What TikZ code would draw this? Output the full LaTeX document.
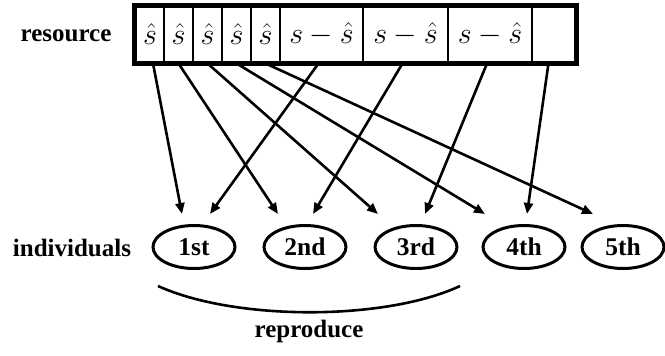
\documentclass[tikz,border=0pt]{standalone}
\usepackage{fontspec}
\setmainfont{Liberation Serif}
\usetikzlibrary{arrows.meta,shapes.geometric}
\newcommand\cellmath[1]{\scalebox{1.45}{$#1$}}
\begin{document}
\begin{tikzpicture}[x=1pt,y=-1pt,
  cell/.style={draw,line width=2.8pt,inner sep=0pt,minimum height=55pt,font=\fontsize{20}{24}\selectfont},
  indiv/.style={draw,ellipse,line width=3pt,minimum width=82pt,minimum height=43pt,inner sep=0pt,font=\bfseries\fontsize{25.5}{30}\selectfont},
  lbl/.style={font=\bfseries\fontsize{25}{30}\selectfont,inner sep=0pt},
  arr/.style={line width=2.6pt,-{Triangle[length=11pt,width=9pt]}}]
\useasboundingbox (0,0) rectangle (665,356);
% resource cells
\node[cell,minimum width=28pt] (c1) at (150,34.5) {\cellmath{\hat{s}}};
\node[cell,minimum width=29pt] (c2) at (178.5,34.5) {\cellmath{\hat{s}}};
\node[cell,minimum width=29pt] (c3) at (207.5,34.5) {\cellmath{\hat{s}}};
\node[cell,minimum width=29pt] (c4) at (236.5,34.5) {\cellmath{\hat{s}}};
\node[cell,minimum width=29pt] (c5) at (265.5,34.5) {\cellmath{\hat{s}}};
\node[cell,minimum width=83pt] (c6) at (321.5,34.5) {\cellmath{s-\hat{s}}};
\node[cell,minimum width=85pt] (c7) at (405.5,34.5) {\cellmath{s-\hat{s}}};
\node[cell,minimum width=84pt] (c8) at (490,34.5) {\cellmath{s-\hat{s}}};
\node[cell,minimum width=43pt] (c9) at (553.5,34.5) {};
\draw[line width=4.5pt] (c1.north west) rectangle (c9.south east);
\node[lbl] (res) at (66,36) {resource};
% individuals
\node[indiv] (e1) at (194,247) {1st};
\node[indiv] (e2) at (305,247) {2nd};
\node[indiv] (e3) at (416,247) {3rd};
\node[indiv] (e4) at (524,247) {4th};
\node[indiv] (e5) at (623,247) {5th};
\node[lbl] (ind) at (72,248) {individuals};
% arrow tips
\coordinate (t1a) at (182,214);
\coordinate (t1b) at (210,214);
\coordinate (t2a) at (278,214);
\coordinate (t2b) at (313,214);
\coordinate (t3a) at (378,214);
\coordinate (t3b) at (425,214);
\coordinate (t4a) at (485,214);
\coordinate (t4b) at (527,214);
\coordinate (t5a) at (593,214);
\draw[arr] ([xshift=3pt]c1.south) -- (t1a);
\draw[arr] (c2.south) -- (t2a);
\draw[arr] (c3.south) -- (t3a);
\draw[arr] (c4.south) -- (t4a);
\draw[arr] (c5.south) -- (t5a);
\draw[arr] ([xshift=-3pt]c6.south) -- (t1b);
\draw[arr] ([xshift=-3pt]c7.south) -- (t2b);
\draw[arr] ([xshift=-3pt]c8.south) -- (t3b);
\draw[arr] ([xshift=-5pt]c9.south) -- (t4b);
% reproduce arc
\coordinate (arcL) at (158,286);
\coordinate (arcR) at (460,286);
\draw[line width=2.6pt] (arcL) .. controls (235,321) and (385,321) .. (arcR);
\node[lbl] (rep) at (309,331) {reproduce};
\end{tikzpicture}
\end{document}
